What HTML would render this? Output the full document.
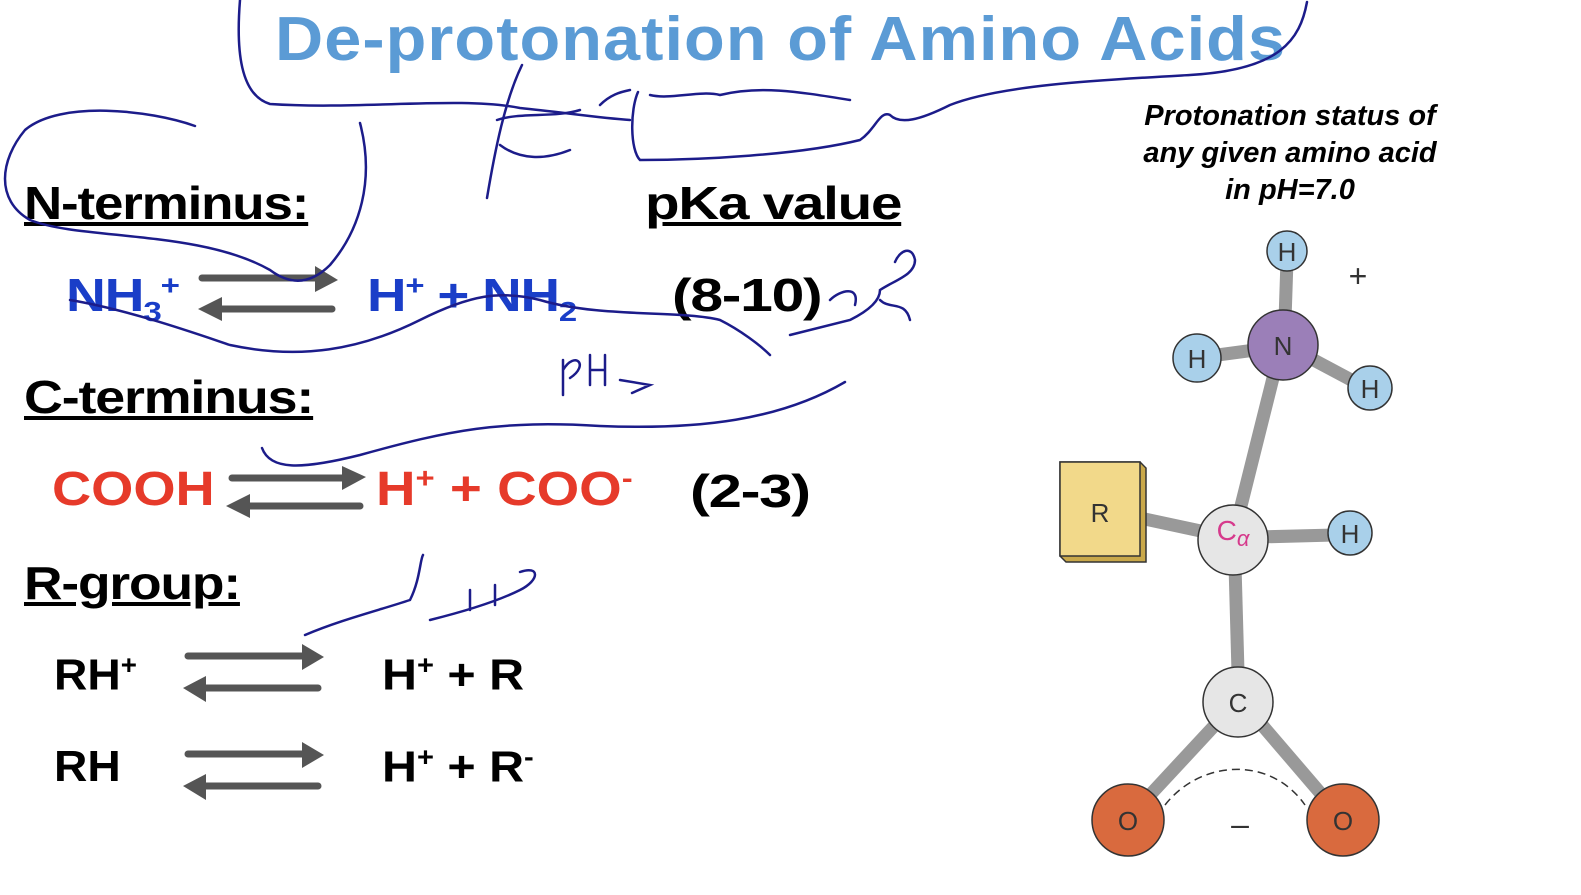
<!DOCTYPE html>
<html><head><meta charset="utf-8"><style>
body{margin:0;width:1581px;height:895px;background:#fff;overflow:hidden;position:relative;font-family:"Liberation Sans",sans-serif}
.t{position:absolute;font-weight:bold;white-space:nowrap;transform-origin:0 0}
sup,sub{font-size:60%}
</style></head><body>
<div class="t" style="left:275px;top:4px;font-size:62px;color:#5b9bd5;letter-spacing:1px;transform:scaleX(1.075)">De-protonation of Amino Acids</div>
<div class="t" style="left:24px;top:176px;font-size:46px;text-decoration:underline;letter-spacing:-1px;transform:scaleX(1.15)">N-terminus:</div>
<div class="t" style="left:645px;top:176px;font-size:46px;text-decoration:underline;letter-spacing:-1px;transform:scaleX(1.23)">pKa value</div>
<div class="t" style="left:66px;top:268px;font-size:46px;color:#1a3ec8;letter-spacing:-1px;transform:scaleX(1.2)">NH<sub>3</sub><sup>+</sup></div>
<div class="t" style="left:367px;top:268px;font-size:46px;color:#1a3ec8;letter-spacing:-1px;transform:scaleX(1.19)">H<sup>+</sup> + NH<sub>2</sub></div>
<div class="t" style="left:672px;top:268px;font-size:46px;letter-spacing:-1px;transform:scaleX(1.28)">(8-10)</div>
<div class="t" style="left:24px;top:370px;font-size:46px;text-decoration:underline;letter-spacing:-1px;transform:scaleX(1.17)">C-terminus:</div>
<div class="t" style="left:52px;top:462px;font-size:48px;color:#e63a2a;transform:scaleX(1.13)">COOH</div>
<div class="t" style="left:376px;top:462px;font-size:48px;color:#e63a2a;transform:scaleX(1.14)">H<sup>+</sup> + COO<sup>-</sup></div>
<div class="t" style="left:690px;top:464px;font-size:46px;letter-spacing:-1px;transform:scaleX(1.3)">(2-3)</div>
<div class="t" style="left:24px;top:556px;font-size:46px;text-decoration:underline;letter-spacing:-1px;transform:scaleX(1.16)">R-group:</div>
<div class="t" style="left:54px;top:650px;font-size:44px;transform:scaleX(1.05)">RH<sup>+</sup></div>
<div class="t" style="left:382px;top:650px;font-size:44px;transform:scaleX(1.1)">H<sup>+</sup> + R</div>
<div class="t" style="left:54px;top:742px;font-size:44px;transform:scaleX(1.05)">RH</div>
<div class="t" style="left:382px;top:742px;font-size:44px;transform:scaleX(1.1)">H<sup>+</sup> + R<sup>-</sup></div>
<div class="t" style="left:1100px;top:98px;width:380px;text-align:center;font-size:29px;font-style:italic;line-height:37px">Protonation status of<br>any given amino acid<br>in pH=7.0</div>
<svg width="1581" height="895" style="position:absolute;left:0;top:0">
<g stroke="#555" stroke-width="7" stroke-linecap="round" fill="#555">
<line x1="202" y1="278" x2="318" y2="278"/><polygon points="315,266 338,280 315,292" stroke="none"/>
<line x1="218" y1="309" x2="332" y2="309"/><polygon points="222,297 198,309 222,321" stroke="none"/>
<line x1="232" y1="478" x2="345" y2="478"/><polygon points="342,466 366,477 342,490" stroke="none"/>
<line x1="248" y1="506" x2="360" y2="506"/><polygon points="250,494 226,506 250,518" stroke="none"/>
<line x1="188" y1="656" x2="305" y2="656"/><polygon points="302,644 324,657 302,670" stroke="none"/>
<line x1="203" y1="688" x2="318" y2="688"/><polygon points="206,676 183,688 206,702" stroke="none"/>
<line x1="188" y1="754" x2="305" y2="754"/><polygon points="302,742 324,755 302,768" stroke="none"/>
<line x1="203" y1="786" x2="318" y2="786"/><polygon points="206,774 183,786 206,800" stroke="none"/>
</g>
<g fill="none" stroke="#1c1c8a" stroke-width="2.5" stroke-linecap="round">
<path d="M240 0 C236 50 240 95 270 104 C360 110 460 96 520 108 C560 112 600 118 630 120"/>
<path d="M1307 2 C1300 40 1280 70 1190 75 C1100 80 1000 85 950 105 C920 120 900 125 890 115 C880 110 875 130 860 140 C800 155 700 160 640 160 C630 150 630 110 638 92"/>
<path d="M195 126 C150 110 60 100 25 130 C0 160 -5 200 30 220 C80 240 200 230 270 270 C290 285 310 285 330 265 C360 230 375 180 360 123"/>
<path d="M70 300 C130 310 200 335 230 345 C300 360 360 350 420 320 C470 295 500 290 540 300 C600 318 680 310 720 320 C740 330 760 345 770 355"/>
<path d="M262 448 C270 470 300 470 360 455 C450 430 500 420 600 426 C700 430 780 420 845 382"/>
<path d="M522 65 C505 100 495 150 487 198"/>
<path d="M497 120 C520 112 555 118 580 110 M500 145 C520 160 545 160 570 150 M600 105 C610 95 620 92 630 90 M650 95 C670 100 700 90 720 95 C760 85 800 92 850 100"/>
<path d="M563 360 L563 395 M563 370 C575 350 590 365 570 378 M590 355 L590 385 M605 355 L605 385 M590 370 L605 370 M620 380 L650 385 L632 393"/>
<path d="M305 635 C340 620 380 610 410 600 C420 580 420 560 423 555 M430 620 C470 610 500 600 520 590 C540 580 540 565 520 572 M470 590 L470 610 M495 585 L495 605"/>
<path d="M790 335 C810 330 830 325 850 320 C870 310 880 300 880 290 C895 280 915 275 915 260 C912 245 900 250 895 262 M830 300 C840 290 860 285 855 305 M880 300 C890 310 905 300 910 320"/>
</g>
<g stroke="#999" stroke-width="13" stroke-linecap="butt">
<line x1="1287" y1="260" x2="1285" y2="320"/>
<line x1="1210" y1="356" x2="1255" y2="350"/>
<line x1="1310" y1="358" x2="1355" y2="382"/>
<line x1="1275" y1="370" x2="1240" y2="510"/>
<line x1="1140" y1="518" x2="1210" y2="533"/>
<line x1="1258" y1="537" x2="1335" y2="535"/>
<line x1="1235" y1="565" x2="1238" y2="672"/>
<line x1="1215" y1="725" x2="1150" y2="795"/>
<line x1="1262" y1="725" x2="1322" y2="795"/>
</g>
<path d="M1165 805 C1200 760 1270 755 1305 805" fill="none" stroke="#333" stroke-width="1.5" stroke-dasharray="8,5"/>
<g stroke="#333" stroke-width="1.5" font-family="Liberation Sans,sans-serif" font-size="26" text-anchor="middle">
<polygon points="1060,462 1140,462 1146,468 1146,562 1066,562 1060,556" fill="#c9a84a"/>
<rect x="1060" y="462" width="80" height="94" fill="#f2d98a"/>
<circle cx="1287" cy="251" r="20" fill="#a9d0ea"/>
<circle cx="1283" cy="345" r="35" fill="#9b7fb8"/>
<circle cx="1197" cy="358" r="24" fill="#a9d0ea"/>
<circle cx="1370" cy="388" r="22" fill="#a9d0ea"/>
<circle cx="1233" cy="540" r="35" fill="#e6e6e6"/>
<circle cx="1350" cy="533" r="22" fill="#a9d0ea"/>
<circle cx="1238" cy="702" r="35" fill="#e6e6e6"/>
<circle cx="1128" cy="820" r="36" fill="#d96a3e"/>
<circle cx="1343" cy="820" r="36" fill="#d96a3e"/>
<g stroke="none" fill="#333">
<text x="1287" y="261">H</text><text x="1283" y="355">N</text><text x="1197" y="368">H</text><text x="1370" y="398">H</text>
<text x="1100" y="522">R</text><text x="1350" y="543">H</text><text x="1238" y="712">C</text>
<text x="1128" y="830">O</text><text x="1343" y="830">O</text>
<text x="1358" y="287" font-size="32">+</text><text x="1240" y="835" font-size="32">–</text>
<text x="1233" y="540" fill="#d63a8c" font-size="28">C<tspan font-size="22" dy="6" font-style="italic">α</tspan></text>
</g></g>
</svg>
</body></html>
